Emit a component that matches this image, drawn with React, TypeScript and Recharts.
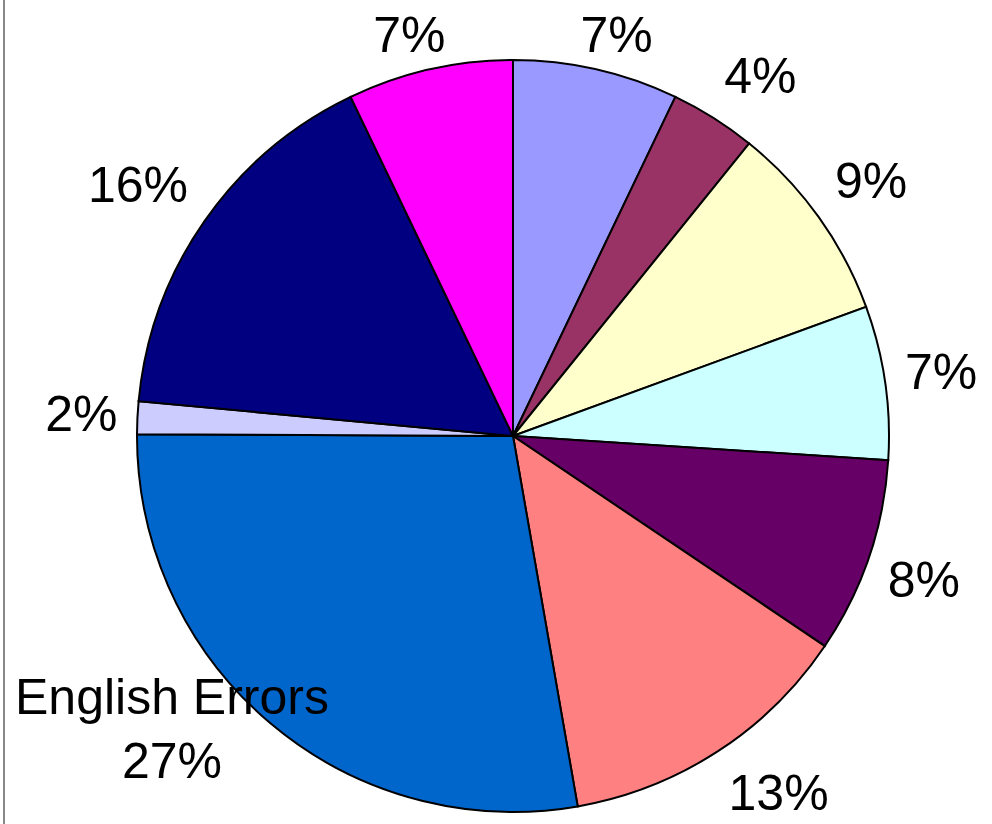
import React from "react";
import { PieChart, Pie, Cell } from "recharts";

// Slice values (clockwise from 12 o'clock)
const categories = ["", "", "", "", "", "", "English Errors", "", "", ""];
const values = [7.1, 3.7, 8.6, 6.6, 8.4, 12.8, 27.8, 1.4, 16.4, 7.1];
const percentLabels = ["7%", "4%", "9%", "7%", "8%", "13%", "27%", "2%", "16%", "7%"];
const colors = [
  "#9999FF",
  "#993366",
  "#FFFFCC",
  "#CCFFFF",
  "#660066",
  "#FF8080",
  "#0066CC",
  "#CCCCFF",
  "#000080",
  "#FF00FF",
];

const data = values.map((value, i) => ({
  name: categories[i],
  value,
  label: percentLabels[i],
}));

const FONT = "'Liberation Sans', Arial, sans-serif";
const FONT_SIZE = 50;
const LINE_HEIGHT = 64;
const RAD = Math.PI / 180;

let ctx: CanvasRenderingContext2D | null = null;
const textWidth = (s: string) => {
  if (!ctx) ctx = document.createElement("canvas").getContext("2d");
  if (!ctx) return s.length * FONT_SIZE * 0.55;
  ctx.font = `${FONT_SIZE}px ${FONT}`;
  return ctx.measureText(s).width;
};

const clamp1 = (v: number) => Math.max(-1, Math.min(1, v));

// Excel-like outside-end label: box corner sits just outside the rim at the mid angle
const renderLabel = (props: any) => {
  const { cx, cy, midAngle, outerRadius, index } = props;
  const lines = categories[index] ? [categories[index], percentLabels[index]] : [percentLabels[index]];
  const w = Math.max(...lines.map(textWidth));
  const hw = w / 2;
  const cos = Math.cos(-midAngle * RAD);
  const sin = Math.sin(-midAngle * RAD);
  let x: number;
  let y: number;
  if (lines.length > 1) {
    const r = outerRadius + 15;
    x = cx + r * cos + hw * cos;
    y = cy + r * sin - 6;
  } else {
    const hh = FONT_SIZE / 2;
    const r = outerRadius + 20;
    x = cx + r * cos + hw * clamp1(cos * 2);
    y = cy + r * sin + hh * clamp1(sin * 2);
  }
  const totalH = (lines.length - 1) * LINE_HEIGHT + FONT_SIZE;
  // keep label inside the chart area
  x = Math.max(x, hw + 15);
  x = Math.min(x, 990 - hw);
  y = Math.max(y, totalH / 2 + 10);
  const top = y - ((lines.length - 1) * LINE_HEIGHT) / 2;
  return (
    <text
      key={`lbl-${index}`}
      x={x}
      y={top}
      textAnchor="middle"
      dominantBaseline="central"
      fontFamily={FONT}
      fontSize={FONT_SIZE}
      fill="#000"
    >
      {lines.map((l, i) => (
        <tspan key={i} x={x} dy={i === 0 ? 0 : LINE_HEIGHT}>
          {l}
        </tspan>
      ))}
    </text>
  );
};

export default function App() {
  return (
    <div style={{ position: "absolute", left: 0, top: 0, width: 992, height: 824, background: "#fff", overflow: "hidden" }}>
      <div style={{ position: "absolute", left: 3, top: 0, width: 2, height: 824, background: "#888" }} />
      <PieChart width={992} height={824} margin={{ top: 0, right: 0, bottom: 0, left: 0 }}>
        <Pie
          data={data}
          dataKey="value"
          nameKey="name"
          cx={513}
          cy={436}
          outerRadius={376}
          startAngle={90}
          endAngle={-270}
          stroke="#000"
          strokeWidth={2}
          label={renderLabel}
          labelLine={false}
          isAnimationActive={false}
        >
          {data.map((d, i) => (
            <Cell key={`cell-${i}`} fill={colors[i]} />
          ))}
        </Pie>
      </PieChart>
    </div>
  );
}
